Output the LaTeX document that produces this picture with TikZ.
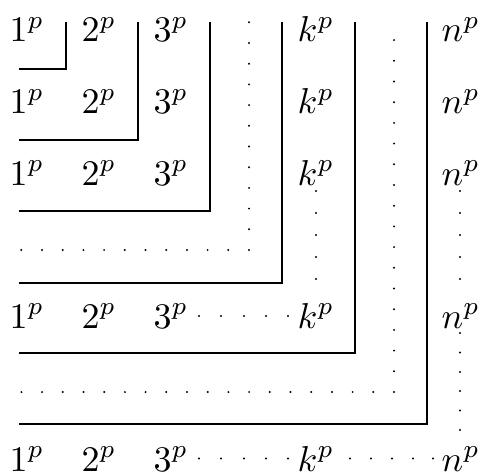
\documentclass[tikz,border=0pt]{standalone}
\usetikzlibrary{positioning}

\begin{document}
\begin{tikzpicture}[
  x = 1pt, y = -1pt,
  term/.style = {inner sep=0pt, anchor=base west, scale=3.6},
  rule/.style = {line width=1.5pt},
  dotline/.style = {line width=2.2pt, line cap=round, dash pattern=on 0pt off 20.7pt}
]
\useasboundingbox (0,0) rectangle (481,473);
% the terms
\foreach \r/\y in {1/42, 2/113.5, 3/185, 5/328, 7/471}
  \foreach \c/\x/\t in {1/9/1, 2/81/2, 3/153/3, 5/297/k, 7/441/n}
    \node[term] (t\r-\c) at (\x,\y) {$\t^p$};
% solid corners
\foreach \cx/\cy in {66/69, 138/140, 210/211, 282/283, 355/353, 427/424}
  \draw[rule] (19,\cy) -| (\cx,22);
% dotted corners
\draw[dotline] (249,250) -- (249,22) (249,250) -- (20,250);
\draw[dotline] (394,392) -- (394,22) (394,392) -- (21,392);
% dots between terms
\foreach \x in {199,221,244,266,288} {
  \fill (\x,316) circle (1.1pt);
  \fill (\x,458.5) circle (1.1pt);
}
\foreach \x in {350,371,392,413,433}
  \fill (\x,458.5) circle (1.1pt);
\foreach \y in {191,213,235,257,279} {
  \fill (316,\y) circle (1.1pt);
  \fill (460,\y) circle (1.1pt);
}
\foreach \y in {333,352.5,372,391,410.5,430}
  \fill (460,\y) circle (1.1pt);
\end{tikzpicture}
\end{document}
